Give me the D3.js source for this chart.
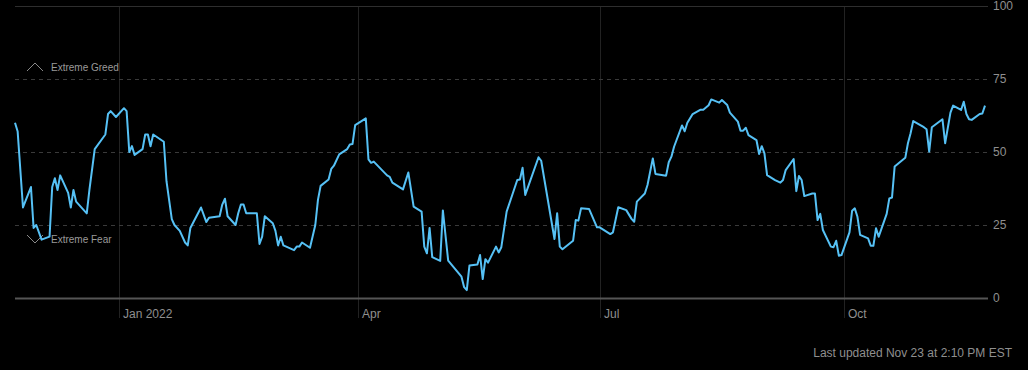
<!DOCTYPE html>
<html>
<head>
<meta charset="utf-8">
<script src="https://cdn.jsdelivr.net/npm/d3@7"></script>
<style>
  html, body { margin: 0; padding: 0; background: #000; }
  svg { display: block; font-family: "Liberation Sans", Arial, sans-serif; }
</style>
</head>
<body>
<svg width="1028" height="370"></svg>
<script>
// fear & greed index, one reading per trading day
var dates = [
  "2021-11-23","2021-11-24","2021-11-26","2021-11-29","2021-11-30","2021-12-01","2021-12-03","2021-12-06",
  "2021-12-07","2021-12-08","2021-12-09","2021-12-10","2021-12-13","2021-12-14","2021-12-15","2021-12-16",
  "2021-12-20","2021-12-21","2021-12-23","2021-12-27","2021-12-28","2021-12-29","2021-12-31","2022-01-03",
  "2022-01-04","2022-01-05","2022-01-06","2022-01-07","2022-01-10","2022-01-11","2022-01-12","2022-01-13",
  "2022-01-14","2022-01-18","2022-01-19","2022-01-21","2022-01-22","2022-01-24","2022-01-26","2022-01-27",
  "2022-01-28","2022-02-01","2022-02-03","2022-02-04","2022-02-08","2022-02-09","2022-02-10","2022-02-11",
  "2022-02-14","2022-02-15","2022-02-16","2022-02-17","2022-02-18","2022-02-22","2022-02-23","2022-02-24",
  "2022-02-25","2022-02-28","2022-03-01","2022-03-02","2022-03-03","2022-03-04","2022-03-08","2022-03-09",
  "2022-03-10","2022-03-11","2022-03-14","2022-03-16","2022-03-17","2022-03-18","2022-03-21","2022-03-22",
  "2022-03-23","2022-03-25","2022-03-28","2022-03-29","2022-03-30","2022-03-31","2022-04-04","2022-04-05",
  "2022-04-06","2022-04-07","2022-04-12","2022-04-13","2022-04-14","2022-04-18","2022-04-20","2022-04-22",
  "2022-04-25","2022-04-26","2022-04-27","2022-04-28","2022-04-29","2022-05-02","2022-05-03","2022-05-05",
  "2022-05-10","2022-05-11","2022-05-12","2022-05-13","2022-05-16","2022-05-17","2022-05-18","2022-05-19",
  "2022-05-20","2022-05-23","2022-05-24","2022-05-25","2022-05-27","2022-05-31","2022-06-01","2022-06-02",
  "2022-06-03","2022-06-08","2022-06-09","2022-06-14","2022-06-15","2022-06-16","2022-06-17","2022-06-21",
  "2022-06-22","2022-06-23","2022-06-24","2022-06-27","2022-06-30","2022-07-01","2022-07-05","2022-07-06",
  "2022-07-08","2022-07-11","2022-07-13","2022-07-14","2022-07-15","2022-07-18","2022-07-19","2022-07-21",
  "2022-07-22","2022-07-26","2022-07-27","2022-07-28","2022-07-29","2022-08-01","2022-08-02","2022-08-03",
  "2022-08-05","2022-08-08","2022-08-09","2022-08-11","2022-08-12","2022-08-15","2022-08-16","2022-08-18",
  "2022-08-19","2022-08-22","2022-08-23","2022-08-24","2022-08-25","2022-08-26","2022-08-29","2022-08-30",
  "2022-08-31","2022-09-01","2022-09-02","2022-09-05","2022-09-07","2022-09-08","2022-09-09","2022-09-12",
  "2022-09-13","2022-09-14","2022-09-15","2022-09-16","2022-09-19","2022-09-20","2022-09-21","2022-09-22",
  "2022-09-23","2022-09-26","2022-09-27","2022-09-28","2022-09-29","2022-09-30","2022-10-03","2022-10-04",
  "2022-10-05","2022-10-06","2022-10-07","2022-10-10","2022-10-11","2022-10-12","2022-10-13","2022-10-14",
  "2022-10-17","2022-10-18","2022-10-19","2022-10-20","2022-10-24","2022-10-25","2022-10-26","2022-10-27",
  "2022-10-31","2022-11-01","2022-11-02","2022-11-03","2022-11-07","2022-11-08","2022-11-10","2022-11-11",
  "2022-11-14","2022-11-15","2022-11-16","2022-11-17","2022-11-18","2022-11-21","2022-11-22","2022-11-23"
];
var values = [
  60, 57, 31, 38, 24, 25, 20, 21,
  38, 41, 37, 42, 36, 31, 37, 33,
  29, 37, 51, 56, 63, 64, 62, 65,
  64, 50, 52, 49, 51, 56, 56, 52,
  56, 53.5, 40, 27, 25, 23, 19, 18,
  24, 31, 26, 27.5, 28, 32, 34, 28,
  25, 29, 32, 32, 29, 29, 18.5, 21,
  28, 25.6, 23, 18, 21, 18, 16.4, 17.6,
  17.6, 19, 17.2, 25, 33.6, 38.4, 40.6, 44.2,
  45.3, 49.2, 51, 52.6, 52.7, 59.2, 61.5, 47.5,
  46.3, 46.7, 42, 41.5, 39.5, 37.2, 43, 31.3,
  29.6, 17.6, 15.3, 24, 14, 12.7, 30, 12.8,
  7.3, 3.7, 2.7, 11.1, 11.5, 14.7, 6.5, 13.3,
  12.1, 17.6, 15.6, 17.4, 29.6, 40.4, 40.6, 44.6,
  35.3, 48.2, 47, 20.2, 29, 17.6, 16.7, 19.6,
  26.7, 26.5, 30.7, 30.5, 24.2, 24.2, 21.9, 22.5,
  31.1, 30.1, 27.1, 26.1, 33, 35.8, 38.7, 47.8,
  42.5, 41.9, 46.5, 48.4, 51.8, 59.1, 57.1, 60,
  63, 64.5, 64.5, 66, 68, 66.9, 67.8, 66.1,
  63.5, 60.4, 57.3, 57.3, 58.3, 55.8, 54.1, 49.3,
  52, 49.5, 42.1, 40.4, 39.5, 40.4, 43.8, 47.6,
  36.6, 41.8, 40.4, 34.9, 35.8, 35.8, 26.7, 28.8,
  23.3, 17.6, 17.4, 19.6, 14.5, 14.7, 22.5, 29.9,
  30.7, 27.8, 21.6, 20.4, 17.9, 17.9, 23.9, 21,
  28.8, 34.1, 34.4, 45, 48, 53, 56.4, 60.6,
  58.5, 57.8, 50.1, 58.5, 61.2, 53, 63.5, 65.9,
  64.4, 67.2, 63, 61.2, 61, 63, 63.2, 65.9
];

var monthTicks = ["2022-01-01", "2022-04-01", "2022-07-01", "2022-10-01"];
var monthLabels = ["Jan 2022", "Apr", "Jul", "Oct"];
var yTicks = [0, 25, 50, 75, 100];
var zones = [
  { label: "Extreme Greed", dir: "up" },
  { label: "Extreme Fear", dir: "down" }
];
var updatedText = "Last updated Nov 23 at 2:10 PM EST";

var parse = d3.timeParse("%Y-%m-%d");
var data = dates.map(function(d, i) { return { date: parse(d), value: values[i] }; });

var svg = d3.select("svg");
var plotL = 15, plotR = 988, plotT = 6, plotB = 298;

var x = d3.scaleTime()
    .domain([parse("2021-11-23"), parse("2022-11-23")])
    .range([plotL, 985]);
var y = d3.scaleLinear()
    .domain([0, 100])
    .range([plotB, plotT]);

// vertical month grid + labels
var mt = svg.append("g").selectAll("g")
    .data(monthTicks)
    .enter().append("g")
    .attr("transform", function(d) { return "translate(" + Math.round(x(parse(d))) + ",0)"; });
mt.append("line")
    .attr("x1", 0.5).attr("x2", 0.5)
    .attr("y1", plotT).attr("y2", 318)
    .attr("stroke", "#222");
mt.append("text")
    .attr("x", 4)
    .attr("y", 318)
    .attr("fill", "#8f8f8f")
    .style("font-size", "12px")
    .text(function(d, i) { return monthLabels[i]; });

// horizontal lines
svg.append("g").selectAll("line")
    .data(yTicks)
    .enter().append("line")
    .attr("x1", plotL).attr("x2", plotR)
    .attr("y1", function(d) { return Math.round(y(d)) + 0.5; })
    .attr("y2", function(d) { return Math.round(y(d)) + 0.5; })
    .attr("stroke", function(d) { return d == 0 ? "#555" : (d == 100 ? "#2e2e2e" : "#3a3a3a"); })
    .attr("stroke-width", function(d) { return d == 0 ? 2 : 1; })
    .attr("stroke-dasharray", function(d) { return (d == 0 || d == 100) ? null : "4,4"; });

// right axis labels
svg.append("g").selectAll("text")
    .data(yTicks)
    .enter().append("text")
    .attr("x", 993)
    .attr("y", function(d) { return y(d); })
    .attr("dy", "0.35em")
    .attr("fill", "#8f8f8f")
    .style("font-size", "12px")
    .text(function(d) { return d; });

// extreme greed / fear markers
var zg = svg.append("g").selectAll("g")
    .data(zones)
    .enter().append("g")
    .attr("transform", function(d) {
      return "translate(0," + (d.dir == "up" ? y(75) - 12 : y(25) + 14) + ")";
    });
zg.append("path")
    .attr("d", function(d) { return d.dir == "up" ? "M27,4 L35,-4 L43,4" : "M27,-4 L35,4 L43,-4"; })
    .attr("fill", "none")
    .attr("stroke", "#8a8a8a")
    .attr("stroke-width", 1);
zg.append("text")
    .attr("x", 51)
    .attr("dy", "0.35em")
    .attr("fill", "#9a9a9a")
    .style("font-size", "10px")
    .text(function(d) { return d.label; });

// index line
svg.append("path")
    .datum(data)
    .attr("fill", "none")
    .attr("stroke", "#56c1f5")
    .attr("stroke-width", 2)
    .attr("stroke-linejoin", "round")
    .attr("d", d3.line()
      .x(function(d) { return x(d.date); })
      .y(function(d) { return y(d.value); }));

svg.append("text")
    .attr("x", 1012)
    .attr("y", 357)
    .attr("text-anchor", "end")
    .attr("fill", "#8f8f8f")
    .style("font-size", "12px")
    .text(updatedText);
</script>
</body>
</html>
